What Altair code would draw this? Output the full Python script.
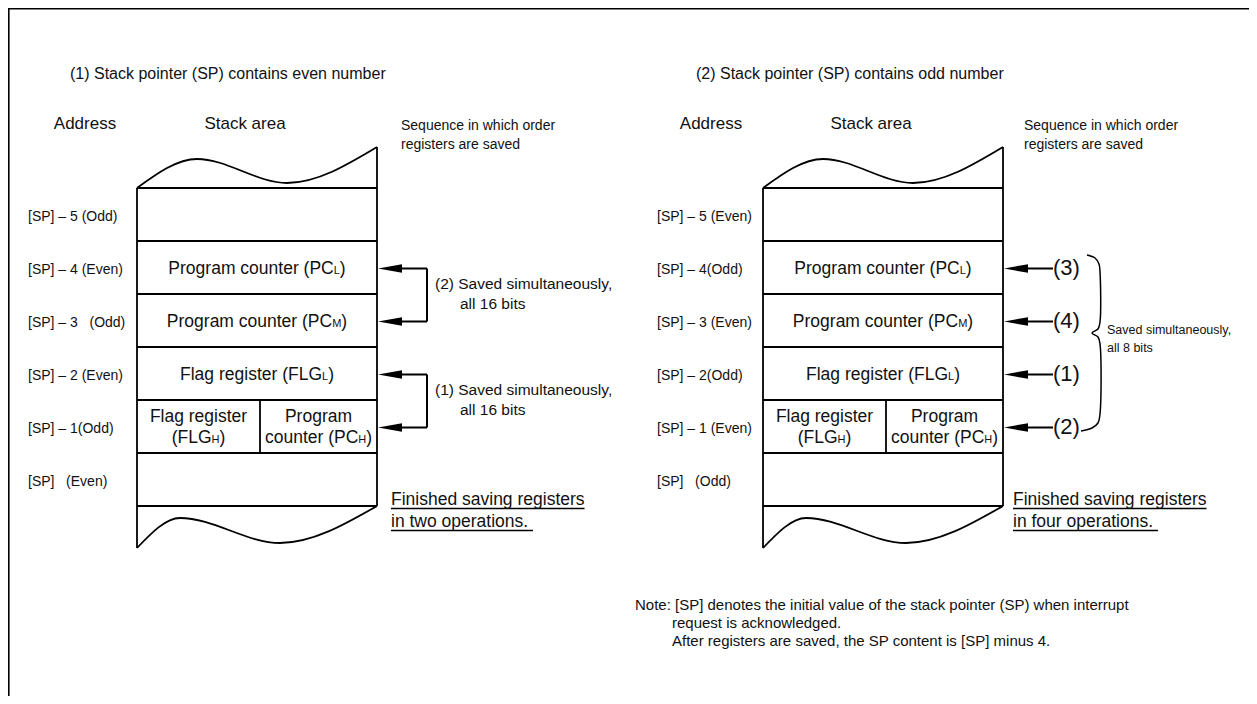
import altair as alt
import pandas as pd

# ---------------- content ----------------
panel_titles = ["(1) Stack pointer (SP) contains even number",
                "(2) Stack pointer (SP) contains odd number"]
column_heads = ["Address", "Stack area"]
sequence_caption = ["Sequence in which order", "registers are saved"]
address_even_sp = ["[SP] – 5 (Odd)", "[SP] – 4 (Even)", "[SP] – 3\u00a0\u00a0\u00a0(Odd)",
                   "[SP] – 2 (Even)", "[SP] – 1(Odd)", "[SP]\u00a0\u00a0\u00a0(Even)"]
address_odd_sp = ["[SP] – 5 (Even)", "[SP] – 4(Odd)", "[SP] – 3 (Even)",
                  "[SP] – 2(Odd)", "[SP] – 1 (Even)", "[SP]\u00a0\u00a0\u00a0(Odd)"]
# (main text, subscript, tail) per stack row; row 4 is split in two cells of two lines
cell_rows = {
    1: [("Program counter (PC", "L", ")")],
    2: [("Program counter (PC", "M", ")")],
    3: [("Flag register (FLG", "L", ")")],
}
split_left = [("Flag register", "", ""), ("(FLG", "H", ")")]
split_right = [("Program", "", ""), ("counter (PC", "H", ")")]
even_pairs = [("(2) Saved simultaneously,", "all 16 bits", 1, 2),
              ("(1) Saved simultaneously,", "all 16 bits", 3, 4)]
odd_order = ["(3)", "(4)", "(1)", "(2)"]          # for stack rows 1..4
brace_caption = ["Saved simultaneously,", "all 8 bits"]
finished_even = ["Finished saving registers", "in two operations. "]
finished_odd = ["Finished saving registers", "in four operations. "]
note_lines = ["Note: [SP] denotes the initial value of the stack pointer (SP) when interrupt",
              "request is acknowledged.",
              "After registers are saved, the SP content is [SP] minus 4."]

# ---------------- layout ----------------
SANS = "Liberation Sans, Arial, Helvetica, sans-serif"
PANEL_DX = [0, 626]
BOX_L, BOX_R, SPLIT_X = 137, 377, 260
ROW_TOP, ROW_H, N_ROWS = 188, 53, 6
ROW_BOT = ROW_TOP + ROW_H * N_ROWS
TOP_WAVE = [(0, 0), (60, -29), (150, -5), (240, -41)]       # relative to (BOX_L, ROW_TOP)
BOT_WAVE = [(0, 42), (43, 12), (143, 37), (240, 0)]         # relative to (BOX_L, ROW_BOT)
CELL_FS, SUB_FS = 17.5, 11

AW = {' ': 278, '\u00a0': 278, '(': 333, ')': 333, '[': 278, ']': 278, '.': 278, ',': 278,
      ':': 278, '–': 556,
      'a': 556, 'b': 556, 'c': 500, 'd': 556, 'e': 556, 'f': 278, 'g': 556, 'h': 556,
      'i': 222, 'j': 222, 'k': 500, 'l': 222, 'm': 833, 'n': 556, 'o': 556, 'p': 556,
      'q': 556, 'r': 333, 's': 500, 't': 278, 'u': 556, 'v': 500, 'w': 722, 'x': 500,
      'y': 500, 'z': 500,
      'A': 667, 'B': 667, 'C': 722, 'D': 722, 'E': 667, 'F': 611, 'G': 778, 'H': 722,
      'I': 278, 'J': 500, 'K': 667, 'L': 556, 'M': 833, 'N': 722, 'O': 778, 'P': 667,
      'Q': 778, 'R': 722, 'S': 667, 'T': 611, 'U': 722, 'V': 667, 'W': 944, 'X': 667,
      'Y': 667, 'Z': 611}


def tw(s, size):
    return sum(AW.get(ch, 556) for ch in s) * size / 1000.0


def row_c(k):
    return ROW_TOP + ROW_H * k + ROW_H / 2


texts, rules, curves, heads = [], [], [], []


def T(x, y, t, style):
    texts.append(dict(x=x, y=y, t=t, style=style))


def R(x, x2, y, y2, w=1.8):
    rules.append(dict(x=x, x2=x2, y=y, y2=y2, w=w))


def cell(cx, base_y, parts):
    main, sub, tail = parts
    total = tw(main, CELL_FS) + tw(sub, SUB_FS) + tw(tail, CELL_FS)
    x0 = cx - total / 2
    T(x0, base_y, main, "cell")
    if sub:
        x1 = x0 + tw(main, CELL_FS)
        T(x1, base_y, sub, "sub")
        T(x1 + tw(sub, SUB_FS), base_y, tail, "cell")


for p, dx in enumerate(PANEL_DX):
    L, Rt, S = BOX_L + dx, BOX_R + dx, SPLIT_X + dx
    T(70 + dx, 74, panel_titles[p], "title")
    T(85 + dx, 124, column_heads[0], "head")
    T(245 + dx, 124, column_heads[1], "head")
    for j, line in enumerate(sequence_caption):
        T(401 + dx + (p * -3), 126 + 19 * j, line, "seq")
    addrs = address_even_sp if p == 0 else address_odd_sp
    for k, a in enumerate(addrs):
        T(28 + dx + 3 * p, row_c(k) + 2, a, "addr")
    # stack rows
    for k in range(N_ROWS + 1):
        yb = ROW_TOP + ROW_H * k
        R(L, Rt, yb, yb, 2)
    R(L, L, ROW_TOP, ROW_BOT + BOT_WAVE[0][1], 1.8)
    R(Rt, Rt, ROW_TOP + TOP_WAVE[-1][1], ROW_BOT, 1.8)
    R(S, S, ROW_TOP + 4 * ROW_H, ROW_TOP + 5 * ROW_H, 1.8)
    for i, (wx, wy) in enumerate(TOP_WAVE):
        curves.append(dict(g=f"top{p}", i=i, x=L + wx, y=ROW_TOP + wy))
    for i, (wx, wy) in enumerate(BOT_WAVE):
        curves.append(dict(g=f"bot{p}", i=i, x=L + wx, y=ROW_BOT + wy))
    # cell texts
    cx = (L + Rt) / 2
    for k, parts in cell_rows.items():
        cell(cx, row_c(k) + 6.3, parts[0])
    for j in range(2):
        cell((L + S) / 2, row_c(4) - 10.5 + 6.3 + 21 * j, split_left[j])
        cell((S + Rt) / 2, row_c(4) - 10.5 + 6.3 + 21 * j, split_right[j])
    # finished
    fin = finished_even if p == 0 else finished_odd
    fx = 391 + dx - 4 * p
    for j, line in enumerate(fin):
        T(fx, 500 + 22 * j, line, "fin")
        R(fx, fx + tw(line, 17.5), 508.5 + 22 * j, 508.5 + 22 * j, 1.3)

# left-panel arrows (pairs)
HEAD = 24
for t1, t2, r1, r2 in even_pairs:
    y1, y2 = row_c(r1) + 1, row_c(r2) + 1
    xv = BOX_R + 50
    for yy in (y1, y2):
        heads.append(dict(x=BOX_R + 1 + HEAD / 2, y=yy))
        R(BOX_R + HEAD, xv, yy, yy, 2)
    R(xv, xv, y1, y2, 2)
    T(435, (y1 + y2) / 2 - 11, t1, "pair")
    T(460, (y1 + y2) / 2 + 9, t2, "pair")

# right-panel arrows
dx = PANEL_DX[1]
for k, lab in enumerate(odd_order, start=1):
    yy = row_c(k) + 1
    heads.append(dict(x=BOX_R + dx + 1 + HEAD / 2, y=yy))
    R(BOX_R + dx + HEAD, BOX_R + dx + 50, yy, yy, 2)
    T(BOX_R + dx + 50, yy - 1, lab, "order")

# brace
brace_pts = [(1087, 255), (1095, 258), (1099, 264), (1100, 272), (1100, 322), (1098, 329),
             (1092, 333), (1098, 337), (1100, 344), (1100, 414), (1098, 423), (1092, 428),
             (1081, 431)]
for i, (bx, by) in enumerate(brace_pts):
    curves.append(dict(g="brace", i=i, x=bx, y=by))
T(1107, 330, brace_caption[0], "brace")
T(1107, 348, brace_caption[1], "brace")

# note
T(635, 605, note_lines[0], "note")
T(672, 623, note_lines[1], "note")
T(672, 641, note_lines[2], "note")

# frame
R(8.5, 8.5, 8, 696, 2.2)
R(8, 1249, 8.5, 8.5, 2.2)

# ---------------- chart ----------------
XS = alt.Scale(domain=[8, 1249], nice=False, zero=False)
YS = alt.Scale(domain=[8, 696], nice=False, zero=False, reverse=True)
X = alt.X("x:Q", scale=XS, axis=None)
Y = alt.Y("y:Q", scale=YS, axis=None)

STYLES = {
    "title": (16, "middle"),
    "head": (17, "middle"),
    "addr": (14, "middle"),
    "seq": (14, "middle"),
    "cell": (CELL_FS, "alphabetic"),
    "sub": (SUB_FS, "alphabetic"),
    "pair": (15.5, "middle"),
    "order": (22, "middle"),
    "brace": (12.5, "middle"),
    "fin": (17.5, "middle"),
    "note": (15, "middle"),
}

tdf = pd.DataFrame(texts)
layers = []
rdf = pd.DataFrame(rules)
layers.append(alt.Chart(rdf).mark_rule(color="black").encode(
    x=X, x2="x2:Q", y=Y, y2="y2:Q", strokeWidth=alt.StrokeWidth("w:Q", scale=None)))
cdf = pd.DataFrame(curves)
layers.append(alt.Chart(cdf[cdf.g != "brace"]).mark_line(
    color="black", strokeWidth=1.8, interpolate="monotone").encode(
    x=X, y=Y, detail="g:N", order="i:Q"))
layers.append(alt.Chart(cdf[cdf.g == "brace"]).mark_line(
    color="black", strokeWidth=1.5, interpolate="catmull-rom").encode(
    x=X, y=Y, detail="g:N", order="i:Q"))
layers.append(alt.Chart(pd.DataFrame(heads)).mark_point(
    shape="M -1 0 L 1 -0.36 L 1 0.36 Z", size=HEAD * HEAD, filled=True,
    color="black", opacity=1, strokeWidth=0).encode(x=X, y=Y))
for st, (fs, base) in STYLES.items():
    sub = tdf[tdf["style"] == st]
    if len(sub) == 0:
        continue
    layers.append(alt.Chart(sub).mark_text(
        align="left" if st != "head" else "center", baseline=base, font=SANS,
        fontSize=fs, color="#111").encode(x=X, y=Y, text="t:N"))

chart = alt.layer(*layers).properties(
    width=1241, height=688, padding=0, autosize="none"
).configure_view(stroke=None)

chart.save("out.html", embed_options={"renderer": "svg", "actions": False})
